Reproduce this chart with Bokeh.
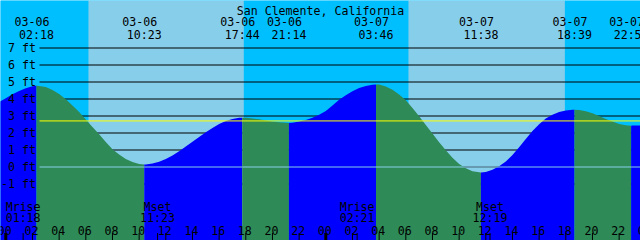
from bokeh.plotting import figure
from bokeh.core.properties import value
from bokeh.embed import file_html
from bokeh.resources import INLINE

# ---------------- data ----------------
TITLE = "San Clemente, California"

# half-hour samples, hours counted from 03-06 00:00; tide level in feet
hours = [h / 2 for h in range(-2, 97)]
level_ft = [3.55, 3.82, 4.05, 4.28, 4.47, 4.63, 4.75, 4.77, 4.70, 4.53,
            4.29, 3.98, 3.62, 3.23, 2.80, 2.36, 1.92, 1.47, 1.05, 0.73,
            0.47, 0.29, 0.18, 0.15, 0.20, 0.31, 0.47, 0.68, 0.93, 1.20,
            1.49, 1.77, 2.05, 2.30, 2.53, 2.70, 2.83, 2.89, 2.89, 2.86,
            2.81, 2.74, 2.68, 2.63, 2.60, 2.61, 2.68, 2.77, 2.90, 3.07,
            3.30, 3.62, 3.95, 4.22, 4.45, 4.64, 4.77, 4.84, 4.85, 4.74,
            4.55, 4.27, 3.92, 3.47, 2.98, 2.47, 1.97, 1.46, 0.98, 0.55,
            0.17, -0.07, -0.25, -0.31, -0.29, -0.16, 0.05, 0.33, 0.70, 1.16,
            1.65, 2.12, 2.52, 2.85, 3.07, 3.24, 3.33, 3.37, 3.35, 3.28,
            3.16, 3.00, 2.83, 2.67, 2.53, 2.46, 2.435, 2.44, 2.48]

# high / low tide events
ext_hours = [2.30, 10.383, 17.733, 21.233, 27.767, 35.633, 42.65, 46.90]
ext_ft = [4.78, 0.15, 2.90, 2.59, 4.86, -0.32, 3.37, 2.43]
ext_date = ["03-06", "03-06", "03-06", "03-06", "03-07", "03-07", "03-07", "03-07"]
ext_time = ["02:18", "10:23", "17:44", "21:14", "03:46", "11:38", "18:39", "22:54"]

# sun (day / night shading)
sunrise_h = [6.20, 30.20]
sunset_h = [17.85, 41.93]

# moon events
moon_h = [1.30, 11.383, 26.35, 36.317]
moon_kind = ["Mrise", "Mset", "Mrise", "Mset"]
moon_time = ["01:18", "11:23", "02:21", "12:19"]

# axis ticks / levels
tick_hours = list(range(0, 49, 2))
tick_labels = ["%02d" % (h % 24) for h in tick_hours]
day_hours = [0, 24, 48]
ft_levels = list(range(-1, 8))
ft_labels = ["%d ft" % k for k in ft_levels]
mean_level = 2.71
datum_level = 0.0

# ---------------- geometry ----------------
W, H = 640, 240
PX_PER_FT = 17.0
Y0 = 166.5                 # pixel row of 0 ft
PX_PER_H = W / 48.0
X0 = 5.3                   # pixel column of 03-06 00:00

def ypx(py):
    return (Y0 - py) / PX_PER_FT

def xpx(px):
    return (px - X0) / PX_PER_H

x_left, x_right = xpx(0), xpx(W)
y_top, y_bot = ypx(0), ypx(H)

NIGHT = "#00BFFF"
DAY = "#87CEEB"
FLOOD = "#0000FF"
EBB = "#2E8B57"
FONT = value("DejaVu Sans Mono")
FSIZE = value("11.6px")

p = figure(width=W, height=H, output_backend="svg", toolbar_location=None,
           x_range=(x_left, x_right), y_range=(y_bot, y_top),
           x_axis_type=None, y_axis_type=None, min_border=0,
           min_border_left=0, min_border_right=0, min_border_top=0,
           min_border_bottom=0)
p.outline_line_color = None
p.background_fill_color = NIGHT
p.border_fill_color = NIGHT

# day / night background
night_l = [x_left] + sunset_h
night_r = sunrise_h + [x_right]
p.quad(left=night_l, right=night_r, bottom=y_bot, top=y_top,
       fill_color=NIGHT, line_color=None)
p.quad(left=sunrise_h, right=sunset_h, bottom=y_bot, top=y_top,
       fill_color=DAY, line_color=None)

# black level lines (behind the water)
gx0 = xpx(39)
p.segment(x0=[gx0] * len(ft_levels), x1=[x_right] * len(ft_levels),
          y0=ft_levels, y1=ft_levels, line_color="black", line_width=1)

# water: blue while rising, green while falling
pts = sorted(set(zip(hours, level_ft)) | set(zip(ext_hours, ext_ft)))
bounds = [hours[0]] + ext_hours + [hours[-1]]
for a, b in zip(bounds[:-1], bounds[1:]):
    seg = [(t, v) for t, v in pts if a <= t <= b]
    rising = seg[-1][1] > seg[0][1]
    p.varea(x=[t for t, _ in seg], y1=y_bot, y2=[v for _, v in seg],
            fill_color=FLOOD if rising else EBB)

# datum and mean lines
p.segment(x0=[gx0], x1=[x_right], y0=[datum_level], y1=[datum_level],
          line_color=DAY, line_width=1)
p.segment(x0=[gx0], x1=[x_right], y0=[mean_level], y1=[mean_level],
          line_color="#FFFF00", line_width=1)

# level labels
p.text(x=[xpx(35.5)] * len(ft_levels), y=ft_levels, text=ft_labels,
       text_align="right", text_baseline="middle", text_color="black",
       text_font=FONT, text_font_size=FSIZE)

# title
p.text(x=[xpx(320)], y=[ypx(10)], text=[TITLE], text_align="center",
       text_baseline="alphabetic", text_color="black",
       text_font=FONT, text_font_size=FSIZE)

# event labels at top
p.text(x=ext_hours, y=[ypx(21)] * len(ext_hours), text=ext_date,
       x_offset=-4.5, text_align="center", text_baseline="alphabetic",
       text_color="black", text_font=FONT, text_font_size=FSIZE)
p.text(x=ext_hours, y=[ypx(34)] * len(ext_hours), text=ext_time,
       text_align="center", text_baseline="alphabetic",
       text_color="black", text_font=FONT, text_font_size=FSIZE)

# moon labels at bottom
p.text(x=moon_h, y=[ypx(206.5)] * len(moon_h), text=moon_kind,
       text_align="center", text_baseline="alphabetic",
       text_color="black", text_font=FONT, text_font_size=FSIZE)
p.text(x=moon_h, y=[ypx(217.5)] * len(moon_h), text=moon_time,
       text_align="center", text_baseline="alphabetic",
       text_color="black", text_font=FONT, text_font_size=FSIZE)

# hour tick labels
p.text(x=tick_hours, y=[ypx(229.5)] * len(tick_hours), text=tick_labels,
       x_offset=-1, text_align="center", text_baseline="alphabetic",
       text_color="black", text_font=FONT, text_font_size=FSIZE)

# tick marks
tick_top = ypx(232.5)
p.segment(x0=tick_hours, x1=tick_hours, y0=[tick_top] * len(tick_hours),
          y1=[y_bot] * len(tick_hours), line_color="black", line_width=1)
p.segment(x0=moon_h, x1=moon_h, y0=[tick_top] * len(moon_h),
          y1=[y_bot] * len(moon_h), line_color="black", line_width=1)
p.segment(x0=day_hours, x1=day_hours, y0=[tick_top] * len(day_hours),
          y1=[y_bot] * len(day_hours), line_color="black", line_width=3)

open("out.html", "w").write(file_html(p, INLINE))
